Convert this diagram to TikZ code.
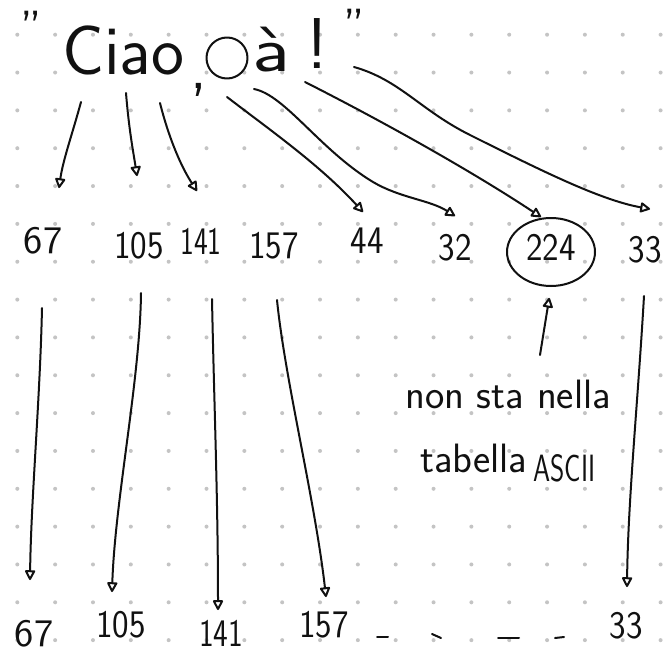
\documentclass[tikz,border=0pt]{standalone}
\usepackage{fontspec}
\usepackage{graphicx}
\usetikzlibrary{arrows.meta,shapes.geometric}

\definecolor{dotgrey}{HTML}{C4C4C4}
\definecolor{inkc}{HTML}{111111}

% horizontally condensed text, like narrow handwriting
\newcommand\narrow[2][0.9]{\scalebox{#1}[1]{#2}}
\newcommand\fs[1]{\sffamily\fontsize{#1}{#1}\selectfont}

\tikzset{
  pen/.style={line width=2pt, draw=inkc, line cap=round, line join=round},
  arr/.style={pen, -{Triangle[open,length=11pt,width=11pt,round]}},
  hand/.style={inner sep=0pt, text=inkc, font=\fs{40}},
  num/.style={hand, anchor=base, font=\fs{39}},
}

\begin{document}
\begin{tikzpicture}[x=1pt,y=-1pt]
  \fill[white] (0,0) rectangle (664,653);
  \useasboundingbox (0,0) rectangle (664,653);

  % dotted paper
  \foreach \i in {0,...,17}{
    \foreach \j in {0,...,16}{
      \fill[dotgrey] ({17.3+37.84*\i},{34.7+37.84*\j}) circle[radius=2pt];
    }
  }

  % the string; the space is marked by a drawn circle
  \node[hand, anchor=base, font=\fs{48}] (lq) at (31,44) {"};
  \node[hand, anchor=base west, font=\fs{70}] (ciao) at (62,74) {Ciao};
  \node[hand, anchor=base, font=\fs{64}] (comma) at (199,88) {,};
  \node[pen, draw, circle, minimum size=41pt, inner sep=0pt] (spc) at (227,58) {};
  \node[hand, anchor=base] (agrave) at (271,71) {\scalebox{2.1}[1.6]{à}};
  \node[hand, anchor=base] (bang) at (317,68) {\scalebox{1.8}{!}};
  \node[hand, anchor=base, font=\fs{48}] (rq) at (354,42) {"};

  % codes
  \node[num] (m67)  at (43,253)  {\narrow[1.05]{67}};
  \node[num] (m105) at (139,258) {\narrow{105}};
  \node[num] (m141) at (201,254) {\narrow[0.75]{141}};
  \node[num] (m157) at (274,258) {\narrow{157}};
  \node[num] (m44)  at (367,253) {\narrow{44}};
  \node[num] (m32)  at (455,260) {\narrow{32}};
  \node[num] (m224) at (551,260) {\narrow{224}};
  \node[num] (m33)  at (645,262) {\narrow{33}};
  \node[pen, draw, ellipse, minimum width=88pt, minimum height=68pt, inner sep=0pt] (ring) at (551,252) {};

  % note
  \node[hand, anchor=base west, font=\fs{41}] (note1) at (405,408) {non sta nella};
  \node[hand, anchor=base west, font=\fs{41}] (note2) at (420,472) {tabella};
  \node[hand, anchor=base west, font=\fs{38}] (note3) at (533,481) {\narrow[0.72]{ASCII}};

  % bottom row
  \node[num] (b67)  at (34,646)  {\narrow[1.05]{67}};
  \node[num] (b105) at (121,637) {\narrow{105}};
  \node[num] (b141) at (221,646) {\narrow[0.8]{141}};
  \node[num] (b157) at (324,637) {\narrow{157}};
  \node[num] (b33)  at (626,638) {\narrow{33}};
  \draw[pen] (377,637) -- (388,637);
  \draw[pen] (432,634) -- (441,638);
  \draw[pen] (498,638) -- (519,638);
  \draw[pen] (555,638) -- (564,637);

  % arrows from the characters to their codes
  \coordinate (s1) at (81,102);  \coordinate (e1) at (59,188);
  \coordinate (s2) at (126,93);  \coordinate (e2) at (137,176);
  \coordinate (s3) at (160,103); \coordinate (e3) at (197,191);
  \coordinate (s4) at (227,97);  \coordinate (e4) at (363,212);
  \coordinate (s5) at (254,89);  \coordinate (e5) at (455,216);
  \coordinate (s6) at (305,82);  \coordinate (e6) at (541,217);
  \coordinate (s7) at (354,67);  \coordinate (e7) at (650,209);
  \draw[arr] (s1) .. controls (72,135) and (63,160) .. (e1);
  \draw[arr] (s2) .. controls (129,130) and (133,150) .. (e2);
  \draw[arr] (s3) .. controls (168,135) and (180,165) .. (e3);
  \draw[arr] (s4) .. controls (270,130) and (320,165) .. (e4);
  \draw[arr] (s5) .. controls (285,95) and (320,150) .. (373,182)
                  .. controls (400,198) and (430,200) .. (e5);
  \draw[arr] (s6) .. controls (380,120) and (470,170) .. (e6);
  \draw[arr] (s7) .. controls (400,80) and (420,110) .. (470,135)
                  .. controls (540,170) and (600,200) .. (e7);

  % arrows down to the second row
  \coordinate (t1) at (42,308);  \coordinate (u1) at (30,580);
  \coordinate (t2) at (141,293); \coordinate (u2) at (112,592);
  \coordinate (t3) at (212,299); \coordinate (u3) at (218,610);
  \coordinate (t4) at (277,300); \coordinate (u4) at (326,597);
  \coordinate (t5) at (644,296); \coordinate (u5) at (627,587);
  \draw[arr] (t1) .. controls (40,400) and (31,500) .. (u1);
  \draw[arr] (t2) .. controls (140,380) and (115,500) .. (u2);
  \draw[arr] (t3) .. controls (214,400) and (218,500) .. (u3);
  \draw[arr] (t4) .. controls (285,380) and (315,500) .. (u4);
  \draw[arr] (t5) .. controls (638,400) and (628,500) .. (u5);

  % pointer from the note to the circled code
  \coordinate (np) at (540,355);
  \draw[arr, shorten >=11pt] (np) -- (ring.south);
\end{tikzpicture}
\end{document}
